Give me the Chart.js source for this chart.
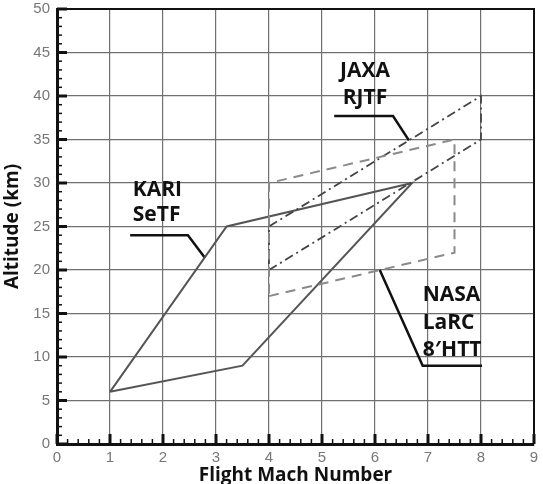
<!DOCTYPE html>
<html>
<head>
<meta charset="utf-8">
<script src="https://cdn.jsdelivr.net/npm/chart.js@4.4.0/dist/chart.umd.min.js"></script>
<style>
  html, body { margin: 0; padding: 0; background: #fff; }
  #wrap { width: 543px; height: 484px; }
</style>
</head>
<body>
<div id="wrap"><canvas id="envChart" width="543" height="484"></canvas></div>
<script>
// facility envelopes (Mach, altitude km)
var kariMach = [1, 3.2, 6.7, 3.5, 1];
var kariAlt  = [6, 25, 30, 9, 6];
var jaxaMach = [4, 8, 8, 4, 4];
var jaxaAlt  = [20, 35, 40, 25, 20];
var nasaMach = [4, 7.5, 7.5, 4, 4];
var nasaAlt  = [17, 22, 35, 30, 17];

// label leader lines
var kariLeadMach = [1.38, 2.47, 2.79];
var kariLeadAlt  = [24, 24, 21.4];
var jaxaLeadMach = [5.23, 6.34, 6.64];
var jaxaLeadAlt  = [37.7, 37.7, 34.9];
var nasaLeadMach = [6.09, 6.9, 8.02];
var nasaLeadAlt  = [20, 9, 9];

var machTicks = [0, 1, 2, 3, 4, 5, 6, 7, 8, 9];
var altTicks  = [0, 5, 10, 15, 20, 25, 30, 35, 40, 45, 50];

function pts(xs, ys) {
  return xs.map(function(x, i) { return {x: x, y: ys[i]}; });
}

function line(label, xs, ys, color, width, dash) {
  return {
    label: label,
    data: pts(xs, ys),
    showLine: true,
    fill: false,
    borderColor: color,
    borderWidth: width,
    borderDash: dash,
    pointRadius: 0,
    tension: 0
  };
}

// inward ticks, frame, axis titles and text labels
var decor = {
  id: 'decor',
  afterDraw: function(chart) {
    var c = chart.ctx, a = chart.chartArea;
    var xs = chart.scales.x, ys = chart.scales.y;
    c.save();
    c.strokeStyle = '#111';
    // top / right frame
    c.lineWidth = 2;
    c.beginPath();
    c.moveTo(a.left, a.top); c.lineTo(a.right, a.top); c.lineTo(a.right, a.bottom);
    c.stroke();
    // x ticks
    for (var i = 0; i <= 45; i++) {
      var v = i * 0.2, px = xs.getPixelForValue(v);
      var major = i % 5 === 0;
      c.lineWidth = major ? 3 : 1.5;
      c.beginPath();
      c.moveTo(px, a.bottom); c.lineTo(px, a.bottom - (major ? 10 : 5));
      c.stroke();
    }
    // y ticks
    for (var j = 0; j <= 50; j++) {
      var py = ys.getPixelForValue(j);
      var maj = j % 5 === 0;
      c.lineWidth = maj ? 3 : 1.5;
      c.beginPath();
      c.moveTo(a.left, py); c.lineTo(a.left + (maj ? 10 : 5), py);
      c.stroke();
    }
    // labels
    c.fillStyle = '#111';
    c.font = 'bold 21px "Open Sans"';
    c.textBaseline = 'middle';
    function txt(s, x, y, align) {
      c.textAlign = align;
      c.fillText(s, xs.getPixelForValue(x), ys.getPixelForValue(y));
    }
    txt('KARI', 1.43, 29.2, 'left');
    txt('SeTF', 1.43, 26.3, 'left');
    txt('JAXA', 5.81, 42.9, 'center');
    txt('RJTF', 5.81, 39.8, 'center');
    txt('NASA', 6.9, 17.1, 'left');
    txt('LaRC', 6.9, 13.9, 'left');
    txt('8\u2032HTT', 6.9, 10.8, 'left');
    // axis titles
    c.font = 'bold 19px "Open Sans"';
    c.textAlign = 'center';
    c.fillText('Flight Mach Number', (a.left + a.right) / 2, a.bottom + 32);
    c.translate(13, (a.top + a.bottom) / 2);
    c.rotate(-Math.PI / 2);
    c.fillText('Altitude (km)', 0, 0);
    c.restore();
  }
};

var ctx = document.getElementById('envChart');
var envChart = new Chart(ctx, {
  type: 'scatter',
  data: {
    datasets: [
      line('NASA LaRC 8\u2032HTT', nasaMach, nasaAlt, '#8a8a8a', 2, [10, 7]),
      line('JAXA RJTF', jaxaMach, jaxaAlt, '#444', 1.8, [9, 4, 2, 4]),
      line('KARI SeTF', kariMach, kariAlt, '#555', 2, []),
      line('kari lead', kariLeadMach, kariLeadAlt, '#111', 2.5, []),
      line('jaxa lead', jaxaLeadMach, jaxaLeadAlt, '#111', 2.5, []),
      line('nasa lead', nasaLeadMach, nasaLeadAlt, '#111', 2.5, [])
    ]
  },
  options: {
    responsive: false,
    animation: false,
    layout: { padding: { left: 0, right: 9, top: 9, bottom: 0 } },
    plugins: { legend: { display: false }, tooltip: { enabled: false } },
    scales: {
      x: {
        type: 'linear', min: 0, max: 9,
        afterBuildTicks: function(s) { s.ticks = machTicks.map(function(v) { return {value: v}; }); },
        afterFit: function(s) { s.height = 40; s.paddingLeft = 0; s.paddingRight = 0; },
        grid: { color: '#707070', lineWidth: 1.2, drawTicks: false },
        border: { display: true, color: '#111', width: 3 },
        ticks: { padding: 5, color: '#777', font: { family: '"Liberation Sans"', size: 15 } }
      },
      y: {
        type: 'linear', min: 0, max: 50,
        afterBuildTicks: function(s) { s.ticks = altTicks.map(function(v) { return {value: v}; }); },
        afterFit: function(s) { s.width = 57; s.paddingTop = 0; s.paddingBottom = 0; },
        grid: { color: '#707070', lineWidth: 1.2, drawTicks: false },
        border: { display: true, color: '#111', width: 3 },
        ticks: { padding: 7, color: '#777', font: { family: '"Liberation Sans"', size: 15 } }
      }
    }
  },
  plugins: [decor]
});
</script>
</body>
</html>
